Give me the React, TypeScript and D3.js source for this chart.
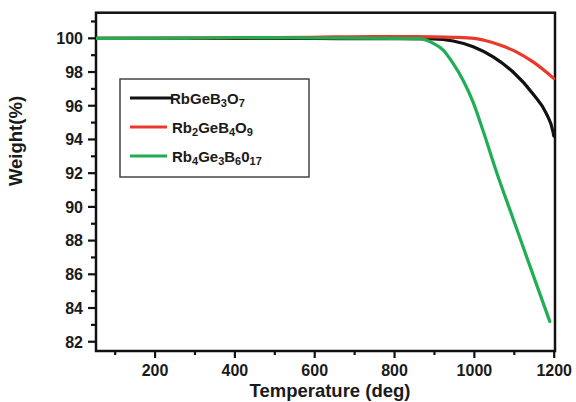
import React from "react";
import * as d3 from "d3";

const blackT = [52, 300, 600, 800, 897, 947, 997, 1047, 1097, 1147, 1180, 1197, 1199];
const blackW = [100.0, 100.0, 99.99, 99.98, 99.97, 99.84, 99.5, 98.9, 98.0, 96.7, 95.55, 94.46, 94.2];

const redT = [52, 300, 500, 650, 750, 850, 950, 1000, 1022, 1064, 1105, 1147, 1180, 1199];
const redW = [100.0, 100.02, 100.04, 100.08, 100.1, 100.1, 100.06, 100.0, 99.9, 99.6, 99.2, 98.6, 98.0, 97.62];

const greenT = [52, 300, 400, 600, 800, 863, 897, 922, 947, 972, 997, 1022, 1055, 1097, 1139, 1189];
const greenW = [100.0, 100.02, 100.05, 100.02, 100.0, 99.98, 99.7, 99.3, 98.5, 97.5, 96.2, 94.5, 92.1, 89.3, 86.5, 83.2];

const seriesNames = ["RbGeB3O7", "Rb2GeB4O9", "Rb4Ge3B6017"];
const seriesColors = ["#111111", "#e8392a", "#1fae52"];

const xTicks = [200, 400, 600, 800, 1000, 1200];
const xMinor = [100, 300, 500, 700, 900, 1100];
const yTicks = [82, 84, 86, 88, 90, 92, 94, 96, 98, 100];
const yMinor = [83, 85, 87, 89, 91, 93, 95, 97, 99, 101];

const FONT = "'Liberation Sans', Arial, Helvetica, sans-serif";

export default function App() {
  const x = d3.scaleLinear().domain([52, 1202]).range([96, 555]);
  const y = d3.scaleLinear().domain([81.45, 101.52]).range([351, 12.7]);

  const mk = (ts: number[], ws: number[]) => ts.map((t, i) => [t, ws[i]] as [number, number]);
  const series = [mk(blackT, blackW), mk(redT, redW), mk(greenT, greenW)];
  const line = d3
    .line<[number, number]>()
    .x((d) => x(d[0]))
    .y((d) => y(d[1]))
    .curve(d3.curveMonotoneX);

  const labelParts: [string, boolean][][] = [
    [["RbGeB", false], ["3", true], ["O", false], ["7", true]],
    [["Rb", false], ["2", true], ["GeB", false], ["4", true], ["O", false], ["9", true]],
    [["Rb", false], ["4", true], ["Ge", false], ["3", true], ["B", false], ["6", true], ["0", false], ["17", true]],
  ];
  const legendRows = [98, 127, 156];
  const lineEnds = [173, 167, 167];
  const textStarts = [170, 172, 172];

  return (
    <svg
      width={576}
      height={402}
      style={{ position: "absolute", left: 0, top: 0, background: "#fff" }}
      fontFamily={FONT}
    >
      <rect x={0} y={0} width={576} height={402} fill="#ffffff" />
      <defs>
        <clipPath id="clip">
          <rect x={96} y={12.7} width={459} height={338.3} />
        </clipPath>
      </defs>
      <rect x={96} y={12.7} width={459} height={338.3} fill="none" stroke="#111" strokeWidth={2.5} />

      <g clipPath="url(#clip)">
        {series.map((s, i) => (
          <path key={i} d={line(s) || ""} fill="none" stroke={seriesColors[i]} strokeWidth={3.2} strokeLinejoin="round" strokeLinecap="round" />
        ))}
      </g>

      {yTicks.map((v) => (
        <g key={"y" + v}>
          <line x1={88} x2={96} y1={y(v)} y2={y(v)} stroke="#111" strokeWidth={2.2} />
          <text x={83} y={y(v) + 5.8} textAnchor="end" fontSize={16} fontWeight="bold" fill="#1a1a1a">
            {v}
          </text>
        </g>
      ))}
      {yMinor.map((v) => (
        <line key={"ym" + v} x1={91} x2={96} y1={y(v)} y2={y(v)} stroke="#111" strokeWidth={2.2} />
      ))}

      {xTicks.map((v) => (
        <g key={"x" + v}>
          <line x1={x(v)} x2={x(v)} y1={351} y2={358} stroke="#111" strokeWidth={2.2} />
          <text x={x(v)} y={376} textAnchor="middle" fontSize={16} fontWeight="bold" fill="#1a1a1a">
            {v}
          </text>
        </g>
      ))}
      {xMinor.map((v) => (
        <line key={"xm" + v} x1={x(v)} x2={x(v)} y1={351} y2={355} stroke="#111" strokeWidth={2.2} />
      ))}

      <text x={330} y={397} textAnchor="middle" fontSize={18.5} fontWeight="bold" fill="#1a1a1a">
        Temperature (deg)
      </text>
      <text
        transform="translate(22,141) rotate(-90)"
        textAnchor="middle"
        fontSize={18.5}
        fontWeight="bold"
        fill="#1a1a1a"
      >
        Weight(%)
      </text>

      <rect x={120} y={79} width={189} height={98} fill="#fff" stroke="#444" strokeWidth={1.5} />
      {seriesNames.map((name, i) => (
        <g key={name}>
          <line x1={130} x2={lineEnds[i]} y1={legendRows[i]} y2={legendRows[i]} stroke={seriesColors[i]} strokeWidth={3.2} />
          <text x={textStarts[i]} y={legendRows[i] + 5.5} fontSize={15} fontWeight="bold" fill="#1a1a1a">
            {labelParts[i].map(([t, sub], j) => (
              <tspan key={j} fontSize={sub ? 11 : 15} baselineShift={sub ? "-30%" : undefined}>
                {t}
              </tspan>
            ))}
          </text>
        </g>
      ))}
    </svg>
  );
}
